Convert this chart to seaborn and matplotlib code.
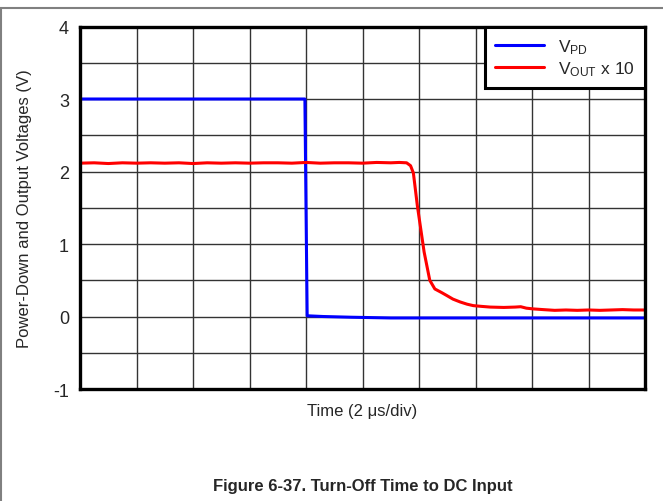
import pandas as pd
import matplotlib
matplotlib.use("Agg")
import matplotlib.pyplot as plt
from matplotlib.lines import Line2D
import seaborn as sns

# time in scope divisions (2 us/div)
vpd_t = [0.0, 1.0, 2.0, 3.0, 3.98, 4.02, 4.3, 4.8, 5.5, 7.0, 8.5, 10.0]
vpd_v = [3.0, 3.0, 3.0, 3.0, 3.0, 0.01, 0.0, -0.01, -0.02, -0.02, -0.02, -0.02]

vout_t = [0.0, 0.25, 0.5, 0.75, 1.0, 1.25, 1.5, 1.75, 2.0, 2.25, 2.5, 2.75,
          3.0, 3.25, 3.5, 3.75, 4.0, 4.25, 4.5, 4.75, 5.0, 5.25, 5.5, 5.65,
          5.78, 5.85, 5.9, 5.97, 6.03, 6.09, 6.19, 6.28, 6.4, 6.49, 6.6, 6.73, 6.85,
          6.96, 7.1, 7.26, 7.5, 7.7, 7.8, 7.9, 8.02, 8.2, 8.4, 8.6, 8.8,
          9.0, 9.2, 9.4, 9.6, 9.8, 10.0]
vout_v = [2.115, 2.12, 2.11, 2.12, 2.115, 2.12, 2.115, 2.12, 2.11, 2.12, 2.115, 2.12,
          2.115, 2.12, 2.12, 2.115, 2.125, 2.115, 2.12, 2.12, 2.115, 2.125, 2.12, 2.125,
          2.12, 2.08, 1.98, 1.53, 1.21, 0.89, 0.50, 0.38, 0.33, 0.29, 0.24, 0.20, 0.17,
          0.15, 0.14, 0.13, 0.125, 0.13, 0.135, 0.115, 0.105, 0.095, 0.085, 0.09, 0.085,
          0.09, 0.085, 0.09, 0.095, 0.09, 0.09]

y_ticks = [-1, 0, 1, 2, 3, 4]

df = pd.concat([
    pd.DataFrame({"t": vpd_t, "v": vpd_v, "trace": "VPD"}),
    pd.DataFrame({"t": vout_t, "v": vout_v, "trace": "VOUT"}),
])

sns.set_style("white")
plt.rcParams["font.family"] = ["Liberation Sans", "DejaVu Sans"]
plt.rcParams["mathtext.default"] = "regular"

fig = plt.figure(figsize=(6.63, 5.02), dpi=100)
ax = fig.add_axes([0.1207, 0.2231, 0.8522, 0.7221])

sns.lineplot(data=df, x="t", y="v", hue="trace", palette={"VPD": "#0000ff", "VOUT": "#ff0000"},
             linewidth=2.2, ax=ax, legend=False, sort=False, estimator=None)

ax.set_xlim(0, 10)
ax.set_ylim(-1, 4)
ax.set_xticks(range(0, 11))
ax.set_yticks([v / 2 for v in range(-2, 9)])
ax.set_yticklabels(["" if v % 2 else str(v // 2) for v in range(-2, 9)], fontsize=13)
ax.set_xticklabels([])
ax.tick_params(length=0, pad=8)
ax.grid(True, color="#333333", linewidth=1.0)
ax.set_axisbelow(True)
for s in ax.spines.values():
    s.set_visible(True)
    s.set_color("black")
    s.set_linewidth(2.4)

ax.set_xlabel("Time (2 \u03bcs/div)", fontsize=12, labelpad=2)
ax.set_ylabel("Power-Down and Output Voltages (V)", fontsize=12, labelpad=15)

handles = [Line2D([], [], color="#0000ff", linewidth=2.2),
           Line2D([], [], color="#ff0000", linewidth=2.2)]
leg = ax.legend(handles, ["V$_{PD}$", "V$_{OUT}$ x 10"], loc="upper right",
                fontsize=12.5, frameon=True, fancybox=False, framealpha=1,
                borderaxespad=0.0, handlelength=2.8, labelspacing=0.2,
                borderpad=0.6, handletextpad=0.8)
leg.get_frame().set_edgecolor("black")
leg.get_frame().set_linewidth(2.2)

fig.text(0.5475, 1 - 487 / 502, "Figure 6-37. Turn-Off Time to DC Input",
         ha="center", va="center", fontsize=12, fontweight="bold")

# document frame lines
fig.add_artist(Line2D([0, 1], [1 - 9 / 502, 1 - 9 / 502], color="#808080", linewidth=1.5))
fig.add_artist(Line2D([0.001, 0.001], [0, 1 - 9 / 502], color="#808080", linewidth=1.5))

fig.savefig("out.png", dpi=100)
